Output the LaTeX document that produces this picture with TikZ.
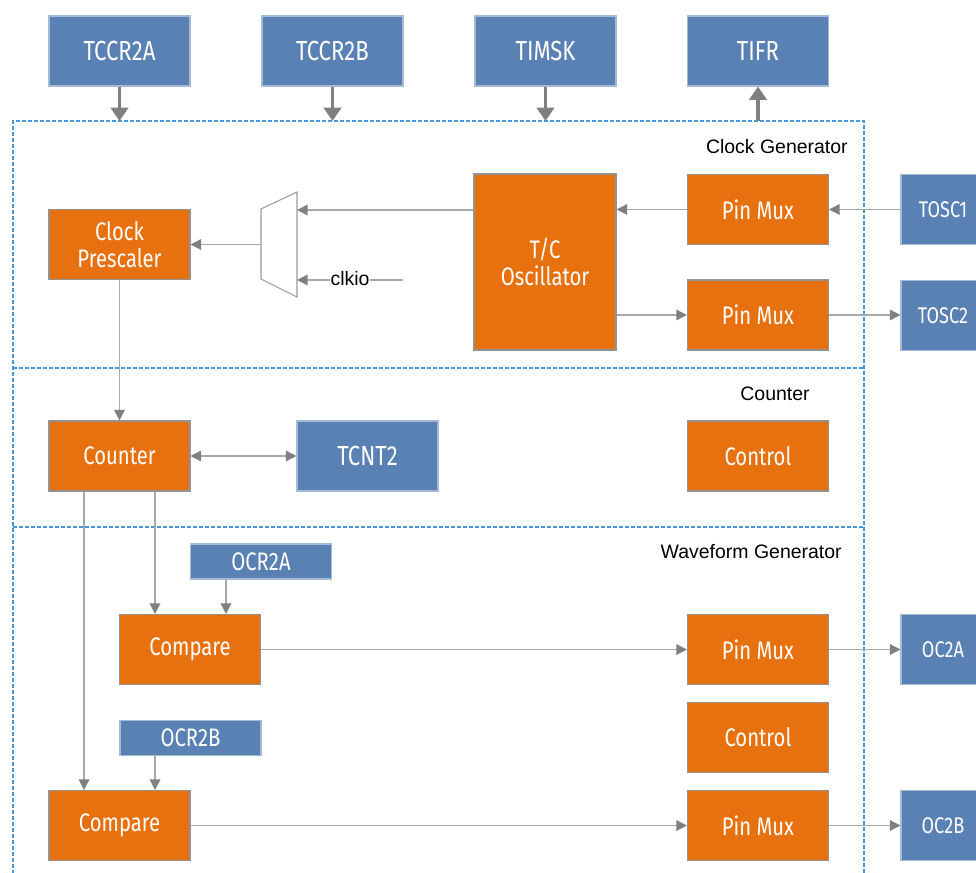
\documentclass[tikz,border=0pt]{standalone}
\usepackage{fontspec}
\setmainfont{Liberation Sans}
\newfontfamily\boxfont[FakeStretch=0.8]{Fira Sans}
\usetikzlibrary{arrows.meta}
\definecolor{regblue}{RGB}{89,129,180}
\definecolor{unitorange}{RGB}{232,113,15}
\definecolor{wiregray}{RGB}{168,168,168}
\definecolor{tipgray}{RGB}{128,128,128}
\definecolor{framedash}{RGB}{70,152,218}
\tikzset{
  reg/.style={fill=regblue,draw=regblue!55!white,line width=0.8pt,text=white,inner sep=0pt,
    minimum width=105.75pt,minimum height=52.5pt,font=\boxfont\fontsize{20.7pt}{20pt}\selectfont},
  unit/.style={fill=unitorange,draw=tipgray!85!white,line width=0.8pt,text=white,inner sep=0pt,align=center,
    minimum width=105.75pt,minimum height=52.5pt,font=\boxfont\fontsize{19pt}{20pt}\selectfont},
  smallreg/.style={reg,minimum height=26.25pt,font=\boxfont\fontsize{19pt}{20pt}\selectfont},
  pinreg/.style={reg,minimum width=63pt,font=\boxfont\fontsize{17pt}{20pt}\selectfont},
  label/.style={inner sep=0pt,font=\fontsize{14.6pt}{16pt}\selectfont},
  wire/.style={draw=wiregray,line width=1.1pt},
  conn/.style={wire,-{Triangle[length=8pt,width=8pt,color=tipgray]}},
  dconn/.style={wire,{Triangle[length=8pt,width=8pt,color=tipgray]}-{Triangle[length=8pt,width=8pt,color=tipgray]}},
  bus/.style={draw=tipgray,line width=2.3pt,-{Triangle[length=10pt,width=13pt]}},
  frame/.style={draw=framedash,line width=0.8pt,dash pattern=on 3pt off 1.5pt}
}
\begin{document}
\begin{tikzpicture}[x=0.75pt,y=-0.75pt]
\useasboundingbox (0,0) rectangle (976,873);
\clip (0,0) rectangle (976,873);

\draw[frame] (13,880) -- (13,121) -- (864,121) -- (864,880);
\draw[frame] (13,368) -- (864,368);
\draw[frame] (13,527) -- (864,527);
\coordinate (frametop) at (13,121);

\node[reg] (tccra) at (119.5,51) {TCCR2A};
\node[reg] (tccrb) at (332.5,51) {TCCR2B};
\node[reg] (timsk) at (545.5,51) {TIMSK};
\node[reg] (tifr) at (758,51) {TIFR};

\node[label,anchor=east] (lclk) at (848,147) {Clock Generator};
\node[label] (lcnt) at (775,394) {Counter};
\node[label,anchor=east] (lwave) at (842,552) {Waveform Generator};

\node[unit] (pre) at (119.5,244.5) {Clock\\Prescaler};
\node[unit,minimum width=106.5pt,minimum height=132pt] (osc) at (545,262) {T/C\\Oscillator};
\node[unit] (pma) at (758,209.5) {Pin Mux};
\node[unit] (pmb) at (758,315) {Pin Mux};
\node[pinreg] (tosca) at (943,209.5) {TOSC1};
\node[pinreg] (toscb) at (943,315.5) {TOSC2};

\node[unit] (cnt) at (119.5,456) {Counter};
\node[reg] (tcnt) at (367.5,456) {TCNT2};
\node[unit] (ctla) at (758,456) {Control};

\node[smallreg] (ocra) at (261,561.5) {OCR2A};
\node[unit] (cmpa) at (190,649.5) {Compare};
\node[unit] (pmc) at (758,649.5) {Pin Mux};
\node[pinreg] (oca) at (943,649.5) {OC2A};
\node[smallreg] (ocrb) at (190.5,738) {OCR2B};
\node[unit] (ctlb) at (758,737.5) {Control};
\node[unit] (cmpb) at (119.5,825.5) {Compare};
\node[unit] (pmd) at (758,825.5) {Pin Mux};
\node[pinreg] (ocb) at (943,825.5) {OC2B};

\draw[tipgray!80!white,line width=0.8pt] (261,209) -- (297,192) -- (297,297) -- (261,279) -- cycle;
\coordinate (muxout) at (261,244.5);
\coordinate (muxa) at (297,210);
\coordinate (muxb) at (297,280);
\coordinate (clksrc) at (403,280);
\node[label,inner sep=0.5pt] (clk) at (350,279) {clkio};

\draw[bus] (tccra.south) -- (tccra.south |- frametop);
\draw[bus] (tccrb.south) -- (tccrb.south |- frametop);
\draw[bus] (timsk.south) -- (timsk.south |- frametop);
\draw[bus] (tifr.south |- frametop) -- (tifr.south);

\draw[conn] (tosca.west) -- (pma.east);
\draw[conn] (pma.west) -- (pma.west -| osc.east);
\draw[conn] (osc.west |- muxa) -- (muxa);
\draw[wire] (clksrc) -- (clksrc -| clk.east);
\draw[conn] (clksrc -| clk.west) -- (muxb);
\draw[conn] (muxout) -- (pre.east);
\draw[conn] (pmb.west -| osc.east) -- (pmb.west);
\draw[conn] (pmb.east) -- (pmb.east -| toscb.west);

\draw[conn] (pre.south) -- (cnt.north);
\draw[dconn] (cnt.east) -- (tcnt.west);
\draw[conn] ([xshift=-26.6pt]cnt.south) -- ([xshift=-26.6pt]cnt.south |- cmpb.north);
\draw[conn] ([xshift=26.6pt]cnt.south) -- ([xshift=26.6pt]cnt.south |- cmpa.north);
\draw[conn] ([xshift=-26.25pt]ocra.south) -- ([xshift=-26.25pt]ocra.south |- cmpa.north);
\draw[conn] ([xshift=-26.6pt]ocrb.south) -- ([xshift=-26.6pt]ocrb.south |- cmpb.north);
\draw[conn] (cmpa.east) -- (pmc.west);
\draw[conn] (pmc.east) -- (oca.west);
\draw[conn] (cmpb.east) -- (pmd.west);
\draw[conn] (pmd.east) -- (ocb.west);
\end{tikzpicture}
\end{document}
